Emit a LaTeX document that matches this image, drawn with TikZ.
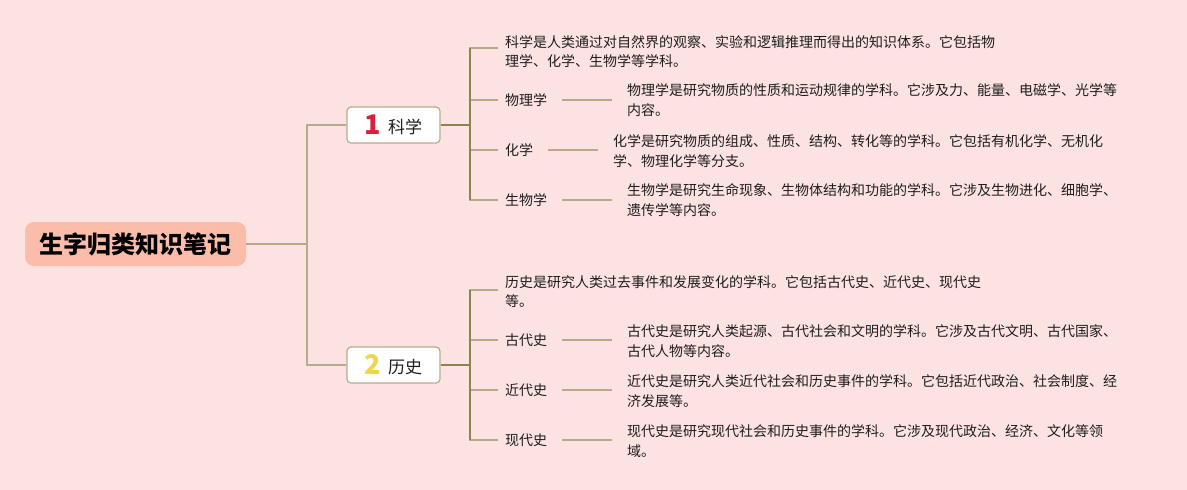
\documentclass[tikz,border=0pt]{standalone}
\usepackage{fontspec}
\setmainfont{Noto Sans CJK SC}
\definecolor{bg}{HTML}{FDE2E2}
\definecolor{rootfill}{HTML}{FBBCAA}
\definecolor{mainline}{HTML}{8A8352}
\definecolor{subline}{HTML}{B5AC8C}
\definecolor{boxline}{HTML}{B4AF8C}
\definecolor{txt}{HTML}{1E1E1E}
\definecolor{numred}{HTML}{D8203A}
\definecolor{numyel}{HTML}{F0D44A}
\begin{document}
\begin{tikzpicture}[x=1pt,y=-1pt,
  rootbox/.style={fill=rootfill,rounded corners=9pt,minimum width=221pt,minimum height=44pt,inner sep=0pt,font=\fontsize{24}{26}\selectfont\bfseries,text=black},
  topicbox/.style={fill=white,draw=boxline,line width=1.2pt,rounded corners=4pt,minimum width=93pt,minimum height=36pt,inner sep=0pt,font=\fontsize{17}{20}\selectfont,text=txt},
  lbl/.style={anchor=west,inner sep=0pt,font=\fontsize{14}{19.5}\selectfont,text=txt},
  desc/.style={anchor=west,inner sep=0pt,align=left,font=\fontsize{14}{19.5}\selectfont,text=txt},
  mainc/.style={draw=mainline,line width=1.5pt},
  subc/.style={draw=subline,line width=1.5pt}
]
\fill[bg] (0,0) rectangle (1187,490);
\useasboundingbox (0,0) rectangle (1187,490);

% root and topics
\node[rootbox] (root) at (135.5,244) {生字归类知识笔记};
\node[topicbox] (t1) at (393.5,125) {\raisebox{-1pt}{\color{numred}\fontsize{27}{27}\selectfont\bfseries 1}\hspace{7pt}科学};
\node[topicbox] (t2) at (393.5,365) {\raisebox{-1pt}{\color{numyel}\fontsize{27}{27}\selectfont\bfseries 2}\hspace{7pt}历史};

\coordinate (j0) at (307,244);
\draw[subc] (root.east) -- (j0);
\draw[subc] (j0) |- (t1.west);
\draw[subc] (j0) |- (t2.west);

% science branch
\coordinate (k1) at (470,125);
\draw[mainc] (t1.east) -- (k1);
\node[desc] (s0) at (505,51.5) {科学是人类通过对自然界的观察、实验和逻辑推理而得出的知识体系。它包括物\\理学、化学、生物学等学科。};
\node[lbl] (s1) at (505,100) {物理学};
\node[lbl] (s2) at (505,150) {化学};
\node[lbl] (s3) at (505,200) {生物学};
\node[desc] (d1) at (627,100) {物理学是研究物质的性质和运动规律的学科。它涉及力、能量、电磁学、光学等\\内容。};
\node[desc] (d2) at (613,151) {化学是研究物质的组成、性质、结构、转化等的学科。它包括有机化学、无机化\\学、物理化学等分支。};
\node[desc] (d3) at (627,200) {生物学是研究生命现象、生物体结构和功能的学科。它涉及生物进化、细胞学、\\遗传学等内容。};
\coordinate (a0) at (498,48);
\draw[subc] (a0) -| (k1 |- s3.west) -- ([xshift=-7pt]s3.west);
\draw[subc] (k1 |- s1.west) -- ([xshift=-7pt]s1.west);
\draw[subc] (k1 |- s2.west) -- ([xshift=-7pt]s2.west);
\draw[mainc] (k1 |- a0) -- (k1 |- s3.west);
\draw[subc] ([xshift=15pt]s1.east) -- ([xshift=-15pt]s1.east -| d1.west);
\draw[subc] ([xshift=15pt]s2.east) -- ([xshift=-15pt]s2.east -| d2.west);
\draw[subc] ([xshift=15pt]s3.east) -- ([xshift=-15pt]s3.east -| d3.west);

% history branch
\coordinate (k2) at (470,365);
\draw[mainc] (t2.east) -- (k2);
\node[desc] (h0) at (505,291.5) {历史是研究人类过去事件和发展变化的学科。它包括古代史、近代史、现代史\\等。};
\node[lbl] (h1) at (505,340) {古代史};
\node[lbl] (h2) at (505,390) {近代史};
\node[lbl] (h3) at (505,440) {现代史};
\node[desc] (e1) at (627,341) {古代史是研究人类起源、古代社会和文明的学科。它涉及古代文明、古代国家、\\古代人物等内容。};
\node[desc] (e2) at (627,391) {近代史是研究人类近代社会和历史事件的学科。它包括近代政治、社会制度、经\\济发展等。};
\node[desc] (e3) at (627,441) {现代史是研究现代社会和历史事件的学科。它涉及现代政治、经济、文化等领\\域。};
\coordinate (b0) at (498,290);
\draw[subc] (b0) -| (k2 |- h3.west) -- ([xshift=-7pt]h3.west);
\draw[subc] (k2 |- h1.west) -- ([xshift=-7pt]h1.west);
\draw[subc] (k2 |- h2.west) -- ([xshift=-7pt]h2.west);
\draw[mainc] (k2 |- b0) -- (k2 |- h3.west);
\draw[subc] ([xshift=15pt]h1.east) -- ([xshift=-15pt]h1.east -| e1.west);
\draw[subc] ([xshift=15pt]h2.east) -- ([xshift=-15pt]h2.east -| e2.west);
\draw[subc] ([xshift=15pt]h3.east) -- ([xshift=-15pt]h3.east -| e3.west);
\end{tikzpicture}
\end{document}
